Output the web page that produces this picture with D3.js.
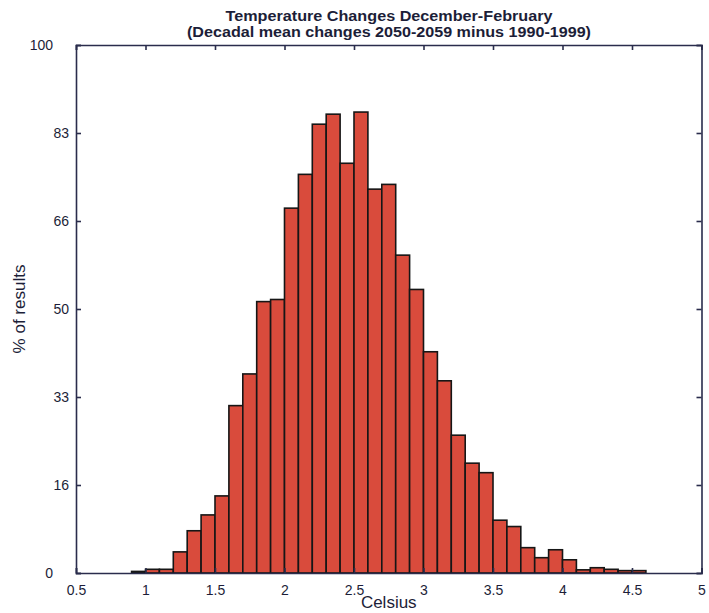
<!DOCTYPE html>
<html>
<head>
<meta charset="utf-8">
<script src="https://cdn.jsdelivr.net/npm/d3@7"></script>
<style>
  html, body { margin: 0; padding: 0; background: #fff; }
  svg { display: block; font-family: "Liberation Sans", Arial, Helvetica, sans-serif; }
</style>
</head>
<body>
<svg id="chart" width="709" height="613"></svg>
<script>
// ---- data ----
const titleLines = ["Temperature Changes December-February", "(Decadal mean changes 2050-2059 minus 1990-1999)"];
const xLabel = "Celsius";
const yLabel = "% of results";
// bin left edges (Celsius), bin width 0.1
const binStarts = [0.9,1.0,1.1,1.2,1.3,1.4,1.5,1.6,1.7,1.8,1.9,2.0,2.1,2.2,2.3,2.4,2.5,2.6,2.7,2.8,2.9,3.0,3.1,3.2,3.3,3.4,3.5,3.6,3.7,3.8,3.9,4.0,4.1,4.2,4.3,4.4,4.5];
const binValues = [0.3,0.7,0.7,4.0,8.0,11.0,14.6,31.7,37.7,51.4,51.8,69.1,75.5,85.0,86.9,77.6,87.3,72.7,73.6,60.2,53.7,41.9,36.4,26.1,20.8,19.0,10.0,8.8,4.8,2.9,4.4,2.5,0.6,1.0,0.7,0.45,0.45];
const binWidth = 0.1;
const xTicks = [0.5,1,1.5,2,2.5,3,3.5,4,4.5,5];
const xTickLabels = ["0.5","1","1.5","2","2.5","3","3.5","4","4.5","5"];
const yTicks = [0,100/6,200/6,300/6,400/6,500/6,100];
const yTickLabels = ["0","16","33","50","66","83","100"];

// ---- layout ----
const svg = d3.select("#chart");
const pL = 76, pR = 701.5, pT = 45, pB = 573;
const axisColor = "#2a2c4c";
const textColor = "#1c1e38";

const x = d3.scaleLinear().domain([0.5, 5]).range([pL, pR]);
const y = d3.scaleLinear().domain([0, 100]).range([pB, pT]);

// bars
svg.append("g").selectAll("rect")
  .data(binStarts.map((s, i) => ({s, v: binValues[i]})))
  .join("rect")
  .attr("x", d => x(d.s))
  .attr("y", d => y(d.v))
  .attr("width", d => x(d.s + binWidth) - x(d.s))
  .attr("height", d => y(0) - y(d.v))
  .attr("fill", "#d94b3c")
  .attr("stroke", "#161616")
  .attr("stroke-width", 1.6);

// axes (ticks inward, on all four sides)
const tickLen = 5;
const gB = svg.append("g").attr("transform", `translate(0,${pB})`)
  .call(d3.axisBottom(x).tickValues(xTicks).tickSize(-tickLen).tickPadding(12)
        .tickFormat((d, i) => xTickLabels[i]));
const gT = svg.append("g").attr("transform", `translate(0,${pT})`)
  .call(d3.axisTop(x).tickValues(xTicks).tickSize(-tickLen).tickFormat(""));
const gL = svg.append("g").attr("transform", `translate(${pL},0)`)
  .call(d3.axisLeft(y).tickValues(yTicks).tickSize(-tickLen).tickPadding(7)
        .tickFormat((d, i) => yTickLabels[i]));
const gR = svg.append("g").attr("transform", `translate(${pR},0)`)
  .call(d3.axisRight(y).tickValues(yTicks).tickSize(-tickLen).tickFormat(""));

[gB, gT, gL, gR].forEach(g => {
  g.select(".domain").attr("stroke", axisColor).attr("stroke-width", 1.6);
  g.selectAll(".tick line").attr("stroke", axisColor).attr("stroke-width", 1.6);
  g.selectAll("text").attr("fill", textColor).attr("font-size", 14)
    .attr("font-family", "\"Liberation Sans\", Arial, sans-serif");
});
// the end labels of the y axis sit further left, as in the source figure
gL.selectAll(".tick text").attr("dx", (d, i) => (i === 0 || i === yTicks.length - 1) ? -16 : 0);

// title
const tg = svg.append("g").attr("fill", textColor).attr("font-weight", "bold")
  .attr("text-anchor", "middle").attr("font-size", 14);
tg.append("text").attr("x", 389).attr("y", 21).text(titleLines[0])
  .attr("textLength", 327).attr("lengthAdjust", "spacingAndGlyphs");
tg.append("text").attr("x", 389).attr("y", 37).text(titleLines[1])
  .attr("textLength", 404).attr("lengthAdjust", "spacingAndGlyphs");

// axis labels
svg.append("text").attr("x", (pL + pR) / 2).attr("y", 608)
  .attr("text-anchor", "middle").attr("font-size", 17).attr("fill", textColor)
  .text(xLabel);
svg.append("text").attr("transform", `translate(25,${(pT + pB) / 2}) rotate(-90)`)
  .attr("text-anchor", "middle").attr("font-size", 17).attr("fill", textColor)
  .text(yLabel);
</script>
</body>
</html>
